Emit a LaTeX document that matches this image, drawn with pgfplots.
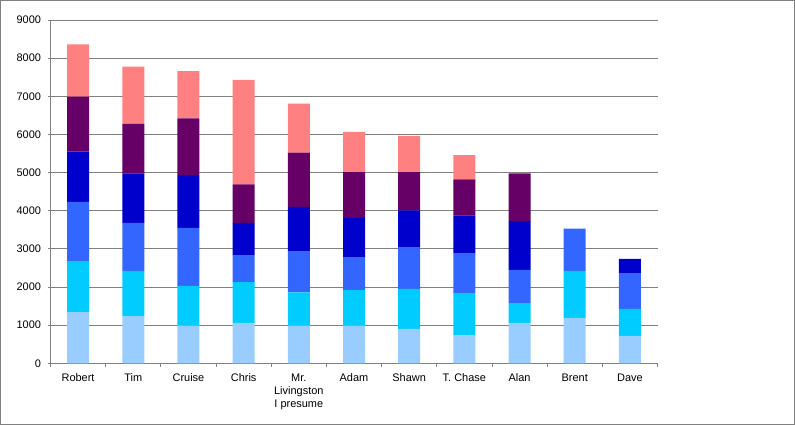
\documentclass[border=0pt]{standalone}
\usepackage{pgfplots}
\usepackage{pgfplotstable}
\pgfplotsset{compat=1.18}
\usepackage{fontspec}
\setmainfont{Liberation Sans}

\definecolor{cA}{HTML}{99CCFF}
\definecolor{cB}{HTML}{00CCFF}
\definecolor{cC}{HTML}{3366FF}
\definecolor{cD}{HTML}{0000CC}
\definecolor{cE}{HTML}{660066}
\definecolor{cF}{HTML}{FF8080}
\definecolor{axgray}{HTML}{808080}

% segments from bottom to top
\pgfplotstableread{
x  a    b    c    d    e    f
0  1340 1340 1550 1320 1440 1370
1  1240 1180 1260 1300 1300 1500
2  990  1040 1520 1380 1490 1240
3  1060 1070 690  860  1010 2740
4  990  870  1080 1160 1420 1290
5  990  930  850  1040 1200 1060
6  900  1050 1080 980  1000 950
7  740  1100 1050 990  940  640
8  1060 520  870  1280 1250 0
9  1190 1230 1110 0    0    0
10 720  710  920  390  0    0
}\people

\begin{document}
\begin{tikzpicture}
\draw[axgray, line width=1bp] (0.5bp,0.5bp) rectangle (794.5bp,424.5bp);
\begin{axis}[
    at={(50.5bp,61.7bp)}, anchor=south west,
    scale only axis, width=607bp, height=343.3bp,
    ybar stacked, bar width=22bp,
    xmin=-0.5, xmax=10.5, ymin=0, ymax=9000,
    axis lines*=left,
    axis line style={axgray, line width=0.8bp},
    xtick={0,...,10},
    xticklabels={Robert, Tim, Cruise, Chris, {Mr.\\Livingston\\I presume}, Adam, Shawn, {T. Chase}, Alan, Brent, Dave},
    xticklabel style={align=center, anchor=north, yshift=-4bp},
    major x tick style={draw=none},
    minor xtick={-0.5,0.5,...,10.5},
    minor tick length=3.5bp,
    ytick={0,1000,...,9000},
    major tick length=3bp,
    tick align=outside,
    tick style={axgray, line width=0.8bp},
    ymajorgrids, grid style={axgray, line width=0.8bp},
    yticklabel style={xshift=-3bp},
    scaled y ticks=false,
    /pgf/number format/1000 sep={},
    /pgf/number format/assume math mode=true,
    ticklabel style={font=\fontsize{11}{13}\selectfont},
]
\addplot[fill=cA, draw=none] table[x=x, y=a] {\people};
\addplot[fill=cB, draw=none] table[x=x, y=b] {\people};
\addplot[fill=cC, draw=none] table[x=x, y=c] {\people};
\addplot[fill=cD, draw=none] table[x=x, y=d] {\people};
\addplot[fill=cE, draw=none] table[x=x, y=e] {\people};
\addplot[fill=cF, draw=none] table[x=x, y=f] {\people};
\end{axis}
\end{tikzpicture}
\end{document}
